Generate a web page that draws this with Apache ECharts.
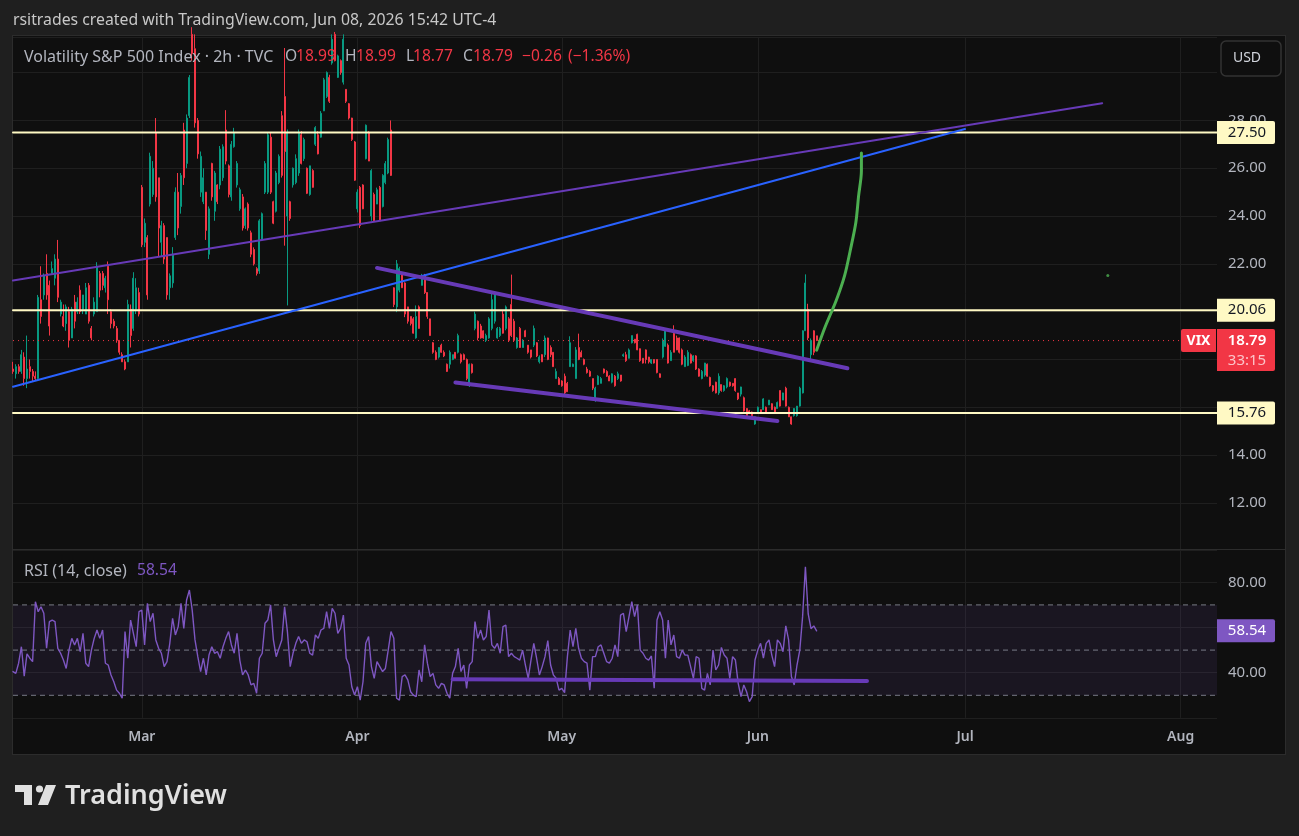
<!DOCTYPE html>
<html>
<head>
<meta charset="utf-8">
<title>VIX 2h</title>
<script src="https://cdn.jsdelivr.net/npm/echarts@6/dist/echarts.min.js"></script>
<style>
html,body{margin:0;padding:0;background:#1f1f1f;overflow:hidden}
#panel{position:absolute;left:12px;top:35px;width:1272px;height:718px;background:#0f0f0f;border:1px solid #2c2c2c}
#main{position:absolute;left:0;top:0;width:1299px;height:836px}
</style>
</head>
<body>
<div id="panel"></div>
<div id="main"></div>
<script>
// candles are [open, close, low, high]
var febBars = [
[17.6,17.5,17.4,17.9],[17.4,17.7,17.2,17.8],[17.7,17.5,17.4,17.8],[17.5,18.2,17.4,18.4],[18.1,17.2,16.9,18.3],
[17.2,17.6,16.8,19],[17.7,17.5,17.2,18],[17.5,17.3,17.1,17.6],[17.3,17.2,17.1,17.5],[17.2,20.6,17.1,20.7],
[20.5,19.8,19.5,21.9],[20.7,21.5,20.5,21.6],[21.6,20.7,20.5,22.4],[21.1,19.4,19,21.3],[21.6,21.8,21.6,22.1],
[21.4,22.2,21.1,22.4],[22.2,20.6,20.4,23],[19.9,20.4,19.8,20.5],[19.8,19.4,19.35,20.3],[19.5,20.2,19.2,20.3],
[20,18.8,18.5,20.2],[18.9,20.1,18.9,20.2],[20.4,19.6,19.3,20.7],[20,20.4,19.9,20.6],[20.9,20,19.9,21.1],
[20.1,20.7,19.9,20.7],[19.9,21,19.9,21.2],[21.1,19.6,19.5,21.2],[19.3,18.9,18.8,19.4],[19.9,20.4,19.8,20.6],
[20,21.9,20,22.07],[21.6,20.9,20.6,21.7],[21.6,21.1,20.9,21.7],[21,21.4,20.8,21.5],[21.9,20.5,19.9,22.1],
[20,19.5,19.3,20.1],[19.6,19.4,19.3,19.7],[19.3,18.8,18.7,19.4],[18.8,18.3,18.2,18.8],[18.2,17.9,17.9,18.3],
[17.9,17.6,17.55,18],[17.9,20.3,17.9,20.5],[20.1,19,18.5,20.3],[19.3,21.4,19.2,21.65],[20.1,21,19.9,21.4],
[20.8,19.9,19.8,21]
];
var marBars = [
[25.2,22.8,22.7,25.3],[22.9,23.7,22.7,23.9],[23.1,20.7,20.5,23.2],[24.5,26.5,24.4,26.65],[24.9,26,24.8,26.3],
[27.5,24.8,24.6,28.1],[25.6,23.5,22.3,25.6],[22.9,23.6,22.3,23.8],[23.6,22.2,22,23.7],[23.1,20.7,20.5,23.1],
[21,21.5,20.5,21.6],[21.2,22.4,21,22.7],[23.1,25,23,25.2],[25,23.5,23.2,25.8],[24.4,25.7,24.1,25.8],
[27.6,25.6,25.3,27.9],[26.2,28.1,26,28.25],[28.2,29.8,28.1,29.9],[31.6,30.8,30.5,31.9],[31,27.9,27.7,31.6],
[28,26.6,26.4,28.1],[25,26.5,24.8,26.7],[24.6,25.6,24.5,26],[25,23.4,23,25],[22.4,24.3,22.2,24.4],
[26.2,24.8,24.64,26.23],[24.2,25.8,23.8,25.89],[25.3,24.6,24.5,25.33],[25.3,26.8,25.12,26.93],[25.6,26.9,25.47,27],
[27.6,26.3,26.16,28.43],[26.1,24.9,24.78,26.16],[24.8,27,24.64,27.14],[26.9,27.5,26.86,27.69],[25.3,26.2,25.19,26.3],
[24.3,25.1,24.22,25.19],[24.8,23.5,23.39,24.92],[23.6,24.3,23.46,24.36],[24.5,23.5,23.39,24.57],[23.3,22.4,22.28,23.39],
[22.6,22,21.93,22.69],[21.8,21.6,21.51,21.86],[21.7,23.8,21.58,23.87],[23,24.1,22.97,24.15],[25,26.2,24.92,26.3],
[25,27.4,24.92,27.48],[27.3,25,24.92,27.48],[24.6,23.7,23.66,24.64],[24.2,25.8,24.15,25.89],[25.4,26.5,25.33,26.58],
[28.2,25.7,25.61,28.39],[29,26.7,22.76,31.03],[24,27.5,20.26,27.62],[24.6,23.9,23.8,24.64],[25.3,26,25.19,26.03],
[25.4,26.4,25.33,26.58],[25.8,27.5,25.68,27.62],[27.4,26.2,26.16,27.55],[26.4,27.2,26.3,27.28],[26,24.95,24.92,26.03],
[24.9,26.1,24.85,26.1],[25.9,25.2,25.19,25.96],[27,27.7,26.93,27.76],[27.4,26.6,26.58,27.55],[27.3,28.3,27.28,28.39],
[28.4,29.7,28.39,29.78],[29,30,28.94,30.05],[29.8,28.8,28.73,29.91],[30.4,31.4,30.33,31.6],[31.6,30.5,30.47,31.7],
[29.8,30.7,29.78,30.75],[30.5,30,29.91,30.55],[29.6,31.4,29.5,31.6],[29.3,28.8,28.73,29.29],[28.7,28.1,28.04,28.73],
[28.1,27.2,27.14,28.11],[27.1,25.5,25.47,27.14]
];
var aprBars = [
[24.3,25,24.15,25.12],[25.2,23.6,23.5,25.26],[25.3,24.3,24.29,25.33],[26.4,27.8,26.37,27.83],[27.5,26.3,26.3,27.55],
[24,25.9,23.8,25.96],[24.9,23.8,23.8,24.98],[24.5,25.1,24.5,25.19],[25.2,23.8,23.8,25.26],[24.4,25.7,24.36,25.75],
[25.4,26.2,25.33,26.3],[25.8,27.2,25.75,27.28],[27.6,25.7,25.68,28],
[21,20.3,20.19,21.02],[20.2,22,19.98,22.16],[20.9,21.8,20.81,21.88],[21.6,21,21,21.65],[21.2,19.9,19.77,21.23],
[20.2,19.6,19.5,20.19],[19.8,19.5,19.42,19.8],[19.7,19.1,19.08,19.77],[18.9,19.8,18.87,20.26],[20.2,19.3,19.29,20.26],
[21.1,21.5,21.09,21.58],[21.5,20.8,20.74,21.58],[20.8,19.8,19.7,20.81],[19.7,19,19,19.7],[18.7,18.3,18.24,18.73],
[18.3,18,17.97,18.38],[18.1,18.5,18.04,18.52],[18.6,18.3,18.28,18.66],[18.3,18.15,18.1,18.38],[17.8,17.5,17.48,17.83],
[17.8,18.3,17.62,18.38],[18,18.2,17.97,18.2],[18.3,18.05,18.04,18.31],[18.3,19,18.25,19.08],[18.2,17.9,17.83,18.25],
[18.2,18,17.97,18.25],[18,17.2,17.13,18.04],[16.9,17.8,16.85,17.83],[17.8,17.45,17.41,17.83],[19.3,19.9,19.22,20],
[19.6,18.9,18.8,19.63],[19.4,18.9,18.87,19.49],[19.2,18.9,18.87,19.22],[18.8,19,18.73,19.08],[18.9,19.7,18.87,19.77],
[19.3,20.5,19.22,20.74],[19.6,20.7,19.5,20.86],[18.9,19.3,18.87,19.36],[19,19.3,18.94,19.36],[19.9,19.1,19.08,20.05],
[19.3,20.2,19.22,20.26],[19.7,18.8,18.73,19.77],[20.3,19,18.94,21.55],[19.6,18.8,18.73,19.7],[18.5,18.9,18.45,18.94],
[19.3,18.5,18.48,19.36],[18.5,18.8,18.5,18.85],[19.2,18.95,18.94,19.24],[18.6,18.3,18.24,18.6],[18.4,18.1,18.04,18.4],
[18.6,19.3,18.52,19.42],[18.7,18.15,18.1,18.73],[17.9,18.1,17.83,18.17],[18.2,17.9,17.9,18.22],[18.2,18.9,18.1,19],
[18.9,18,17.97,18.91],[18.5,18.2,18.1,18.59],[18.3,17.7,17.69,18.31],[17.2,17.5,17.2,17.62],[17.2,16.95,16.93,17.27]
];
var mayBars = [
[17.1,16.9,16.86,17.13],[17.3,16.6,16.47,17.41],[17,16.65,16.65,17.06],[17.7,18.7,17.69,18.97],[17.7,17.8,17.69,17.83],
[17.2,18.4,17.2,18.52],[18.5,18,17.97,19.08],[18.3,18.1,18.1,18.38],[18,17.8,17.76,18.04],[17.6,17.45,17.41,17.69],
[17.5,17.3,17.27,17.55],[17.2,16.8,16.72,17.2],[16.3,16.8,16.23,16.86],[16.95,17.3,16.93,17.34],[17,17.2,17,17.27],
[17.6,17.45,17.41,17.62],[17.5,17.3,17.27,17.55],[17.3,17.1,17.1,17.34],[17.05,17.4,17,17.42],[17.3,16.9,16.86,17.35],
[17.2,17.4,17.14,17.49],[17.35,17.1,17.07,17.35],[18.15,18.2,18.11,18.25],[18.2,17.95,17.9,18.32],[18.05,18.4,18.04,18.46],
[18.7,19,18.67,19],[18.85,18.7,18.67,18.85],[19.05,18.4,18.39,19.08],[18.45,17.95,17.9,18.46],[18.05,17.85,17.83,18.05],
[18.4,18,17.83,18.42],[18.1,17.9,17.83,18.11],[17.85,18,17.81,18],[18,17.85,17.83,18],[18,17.45,17.42,18],
[17.4,17.25,17.25,17.42],[18.1,18.8,18.04,18.88],[18.55,19.2,18.53,19.29],[18.6,17.85,17.83,18.67],[17.95,18.3,17.95,18.39],
[19.1,18.3,18.3,19.43],[18.9,18.4,18.39,19],[18.9,18.3,18.25,18.92],[18.4,17.8,17.76,18.46],[17.7,18.1,17.7,18.18],
[17.75,18.3,17.72,18.39],[18.2,17.85,17.83,18.25],[17.95,18.15,17.9,18.18],[18.15,17.6,17.56,18.18],[17.6,17.3,17.28,17.63],
[17.2,17.5,17.17,17.56],[17.35,17.85,17.28,17.86],[17.8,17.3,17.28,17.83],[17.25,16.9,16.86,17.28],[16.9,16.7,16.65,16.93],
[17.05,16.6,16.58,17.07],[16.6,17.3,16.52,17.42],[16.95,16.7,16.65,16.95],[16.7,16.9,16.65,16.93],[16.85,17.2,16.79,17.25],
[17.05,16.9,16.86,17.07],[17,16.9,16.86,17],[17.2,16.7,16.65,17.21],[16.6,16.35,16.3,16.6],[16.55,16.85,16.45,16.86],
[16.4,15.85,15.82,16.45],[15.95,15.65,15.61,15.96],[15.85,15.75,15.75,15.89],[15.8,15.65,15.61,15.82],[15.3,15.6,15.27,15.61]
];
var junBars = [
[15.8,16,15.75,16.03],[15.9,15.75,15.75,15.9],[15.9,16.35,15.89,16.38],[16,15.8,15.8,16.03],[16.1,16.3,16.1,16.3],
[16.15,15.9,15.89,16.17],[16,15.8,15.78,16.03],[15.95,16.2,15.95,16.24],[16.7,16.05,16.03,16.7],[16.3,16.6,16.3,16.61],
[16.8,16.05,16.03,16.86],[16,15.6,15.6,16.03],[15.6,15.3,15.27,15.61],[15.65,15.95,15.61,15.96],[15.65,16.05,15.61,16.05],
[16.05,16.8,16.03,16.86],[16.6,19.2,16.58,19.22],[19.2,21.2,19.2,21.56],[20.1,18.9,18.81,20.33],[18.2,18.8,18,18.88],
[19.2,18.3,18.18,19.22],[18.99,18.79,18.77,18.99]
];

var febRsi = [40.5,39.7,44.2,51.5,38.5,48.3,46.4,44.9,71.4,67,69.2,66.3,50.8,62.6,63.3,62.6,50.8,48.6,45.6,41.9,50,55.2,52.3,55.2,49.3,57.4,44.2,42.7,50,55.2,58.9,55.2,58.9,44.2,43.4,39,36,32.3,30.9,28.7,58.2,46.4,63.3,57.4,51.5,67];
var marRsi = [67.7,52.3,70.7,62.6,66.3,54.5,50.8,48.6,42.7,44.9,53,64.1,56.7,60.4,70.7,59.6,72.2,76.6,67.7,54.5,47.1,40.5,46.4,39,47.8,51.5,48.6,49.3,46.4,51.5,55.2,58.2,52.3,48.6,57.4,45.6,39,41.2,39,34.6,35.3,30.9,46.4,48.6,61.9,63.3,70,54.5,47.1,50.8,54.5,69.2,58.2,42.7,48.6,53,56,53,54.5,53.7,48.6,47.8,56.7,55.2,58.9,59.6,67,59.6,68.5,66.3,57.4,59.6,65.5,46.4];
var aprRsi = [43.4,33.8,30.1,33.8,27.9,36,53,56,42.7,37.5,44.9,42.7,40.5,41.9,50,58.2,55.2,28.7,27.9,38.3,39,36.8,31.6,30.1,29.4,41.2,36,52.3,44.2,38.3,39.7,34.6,33.1,35.3,34.6,30.9,28.7,39.7,42.7,50.8,40.5,43.4,33.1,43.4,44.9,62.6,55.2,58.9,54.5,56,67.7,52.3,50.8,53,48.6,60.4,61.1,47.1,48.6,47.1,46.4,45.6,50,43.4,37.5,45.6,53,46.4,39,42.7,47.1,54.2,43.4,39,37.5,32.3];
var mayRsi = [33.1,31.2,47.1,58.9,51.5,59.6,50.8,46.4,44.9,44.2,32.3,47.1,47.1,51.5,52.3,48.6,44.9,44.2,46.4,52.3,47.1,65.5,66.3,58.2,64.8,71.4,64.8,70,50,48.6,46.4,45.6,47.4,33.1,63.3,67,63.3,46.4,63.3,52.3,56.7,47.1,46.4,50,47.8,47.8,42.7,37.5,47.1,46.4,33.1,32.3,39.7,34.6,50,41.2,43.4,51.2,47.8,46.4,37.5,47.1,45.6,35.3,29.4,34.6,31.6,27.2,29.4];
var junRsi = [45.6,50,53,46.4,53,54.5,47.8,42.7,54.5,53,49.3,60.7,54.5,38.3,34.6,43.4,50,64.8,86.9,66,59.5,60.7,58.54];

// axis stuff
var slotCount = 431;
var monthBars = [46,123,196,266,340,417];
var monthNames = ['Mar','Apr','May','Jun','Jul','Aug'];
var priceTickLabels = [12,14,22,24,26,28];
var rsiTickLabels = [40,80];
var keyLevels = [27.5,20.06,15.76];
var rsiBands = [70,50,30];
var lastPrice = 18.79;
var lastRsi = 58.54;

// drawings, as [bar slot, value]
var purpleThinLine = [[0,21.3],[389,28.72]];
var blueLine = [[0,16.86],[340,27.64]];
var wedgeTop = [[130,21.83],[298,17.63]];
var wedgeBottom = [[158,17.04],[273,15.43]];
var rsiSupport = [[157,37.1],[305,36.3]];
var greenCurve = [[287,18.39],[290,19.35],[294,20.47],[297,21.51],[299,22.55],[301,23.72],[302,24.84],[303,25.88],[303,26.64]];
var greenDot = [[391,21.51]];

var FONT = '"Noto Sans", sans-serif';
var RED = '#f23645', GREEN = '#089981', PURPLE = '#7e57c2', CREAM = '#fff9c4', MUTED = '#b2b5be';

var candles = febBars.concat(marBars, aprBars, mayBars, junBars);
var rsiLine = febRsi.concat(marRsi, aprRsi, mayRsi, junRsi);
var slots = [];
for (var i = 0; i < slotCount; i++) slots.push(i);

function isMonth(index){ return monthBars.indexOf(index) >= 0; }
function flat(value){ return [[0,value],[slotCount - 1,value]]; }
function drawn(name, data, color, width, pane, extra){
    var s = {
        name: name, type: 'line', data: data, symbol: 'none', silent: true,
        xAxisIndex: pane, yAxisIndex: pane,
        lineStyle: { color: color, width: width, cap: 'round' }
    };
    for (var k in extra) s[k] = extra[k];
    return s;
}
function timeAxis(pane, showLabel){
    return {
        type: 'category', gridIndex: pane, data: slots, boundaryGap: false,
        axisLine: { show: false }, axisTick: { show: false },
        axisPointer: { show: false },
        splitLine: { show: true, interval: isMonth, lineStyle: { color: '#1f1f1f' } },
        axisLabel: {
            show: showLabel, interval: isMonth, margin: 12,
            color: MUTED, fontFamily: FONT, fontSize: 14, fontWeight: 600,
            formatter: function(v){ return monthNames[monthBars.indexOf(+v)] || ''; }
        }
    };
}
function valueAxis(pane, min, max, step, shown){
    return {
        type: 'value', gridIndex: pane, position: 'right', min: min, max: max, interval: step,
        axisLine: { show: false }, axisTick: { show: false },
        splitLine: { show: true, lineStyle: { color: '#1f1f1f' } },
        axisLabel: {
            margin: 11, color: MUTED, fontFamily: FONT, fontSize: 15, padding: [2,0,0,0],
            formatter: function(v){ return shown.indexOf(v) >= 0 ? v.toFixed(2) : ''; }
        }
    };
}

var series = [
    drawn('last', flat(lastPrice), RED, 1, 0, { lineStyle: { color: RED, width: 1, type: [1,4] } }),
    {
        name: 'VIX', type: 'candlestick', data: candles, barWidth: 1.6,
        xAxisIndex: 0, yAxisIndex: 0, silent: true,
        itemStyle: { color: GREEN, color0: RED, borderColor: GREEN, borderColor0: RED, borderWidth: 1 }
    }
];
keyLevels.forEach(function(v){ series.push(drawn('level ' + v, flat(v), CREAM, 2, 0)); });
series.push(drawn('purple trend', purpleThinLine, '#673ab7', 2, 0));
series.push(drawn('blue trend', blueLine, '#2962ff', 2, 0));
series.push(drawn('wedge top', wedgeTop, '#673ab7', 4, 0));
series.push(drawn('wedge bottom', wedgeBottom, '#673ab7', 4, 0));
series.push(drawn('projection', greenCurve, '#4caf50', 3, 0, { smooth: 0.3 }));
series.push({
    name: 'dot', type: 'scatter', data: greenDot, symbolSize: 3, silent: true,
    xAxisIndex: 0, yAxisIndex: 0, itemStyle: { color: '#4caf50' }
});
series.push(drawn('RSI', rsiLine, PURPLE, 1.4, 1, {
    z: 3,
    markArea: {
        silent: true,
        itemStyle: { color: 'rgba(126,87,194,0.1)' },
        data: [[{ yAxis: rsiBands[0] }, { yAxis: rsiBands[2] }]]
    }
}));
rsiBands.forEach(function(v){
    series.push(drawn('band ' + v, flat(v), '#787b86', 1, 1, { z: 2, lineStyle: { color: '#787b86', width: 1, type: [5,4] } }));
});
series.push(drawn('rsi support', rsiSupport, '#673ab7', 4, 1, { z: 4 }));

var chart = echarts.init(document.getElementById('main'));
chart.setOption({
    animation: false,
    textStyle: { fontFamily: FONT },
    grid: [
        { left: 13, top: 37, width: 1204, height: 513.7 },
        { left: 13, top: 550, width: 1204, height: 167.9 }
    ],
    xAxis: [timeAxis(0, false), timeAxis(1, true)],
    yAxis: [valueAxis(0, 10, 31.49, 2, priceTickLabels), valueAxis(1, 20, 94.3, 20, rsiTickLabels)],
    series: series
});

// header, legend, price tags and logo sit on top of the plot
function text(x, y, str, color, size, extra){
    var style = { x: x, y: y, text: str, fill: color, font: (extra && extra.weight || 400) + ' ' + size + 'px ' + FONT, verticalAlign: 'middle', align: extra && extra.align || 'left' };
    return { type: 'text', silent: true, z: 100, style: style };
}
function tag(y, h, bg, lines){
    var out = [{ type: 'rect', silent: true, z: 99, shape: { x: 1217, y: y, width: 58, height: h, r: [0,2,2,0] }, style: { fill: bg } }];
    lines.forEach(function(l){ out.push(text(1247, l.y, l.text, l.color, 15, { align: 'center', weight: l.weight })); });
    return out;
}
var items = [
    { type: 'rect', silent: true, z: 99, shape: { x: 13, y: 549, width: 1272, height: 1 }, style: { fill: '#2c2c2c' } },
    text(13, 20, 'rsitrades created with TradingView.com, Jun 08, 2026 15:42 UTC-4', '#c8c8c8', 15.8),
    text(24, 57, 'Volatility S&P 500 Index · 2h · TVC', MUTED, 16),
    text(285, 57, 'O', MUTED, 15.6), text(296, 57, '18.99', RED, 15.6),
    text(345, 57, 'H', MUTED, 15.6), text(356, 57, '18.99', RED, 15.6),
    text(406, 57, 'L', MUTED, 15.6), text(413, 57, '18.77', RED, 15.6),
    text(463, 57, 'C', MUTED, 15.6), text(473, 57, '18.79', RED, 15.6),
    text(522, 57, '−0.26', RED, 15.6), text(568, 57, '(−1.36%)', RED, 15.6),
    text(24, 571, 'RSI (14, close)', MUTED, 16), text(137, 571, lastRsi.toFixed(2), PURPLE, 15.6),
    { type: 'rect', silent: true, z: 99, shape: { x: 1221, y: 41, width: 60, height: 35, r: 5 }, style: { fill: '#0f0f0f', stroke: '#333333', lineWidth: 1.5 } },
    text(1247, 58, 'USD', '#d1d4dc', 14, { align: 'center' }),
    // logo
    { type: 'polygon', silent: true, shape: { points: [[15,785],[32,785],[32,805],[24,805],[24,792],[15,792]] }, style: { fill: '#e0e0e0' } },
    { type: 'circle', silent: true, shape: { cx: 39.5, cy: 789, r: 3.6 }, style: { fill: '#e0e0e0' } },
    { type: 'polygon', silent: true, shape: { points: [[46,785],[56,785],[48,805],[38,805]] }, style: { fill: '#e0e0e0' } },
    text(65, 796, 'TradingView', '#e0e0e0', 27, { weight: 600 })
];
keyLevels.forEach(function(v){
    var y = chart.convertToPixel({ yAxisIndex: 0 }, v);
    items = items.concat(tag(y - 11.5, 23, CREAM, [{ y: y, text: v.toFixed(2), color: '#131722' }]));
});
var lastY = chart.convertToPixel({ yAxisIndex: 0 }, lastPrice);
items = items.concat(tag(lastY - 11.5, 42, RED, [
    { y: lastY, text: lastPrice.toFixed(2), color: '#ffffff', weight: 600 },
    { y: lastY + 20, text: '33:15', color: '#fbc4c9' }
]));
items.push({ type: 'rect', silent: true, z: 99, shape: { x: 1181, y: lastY - 11.5, width: 35, height: 23, r: [2,0,0,2] }, style: { fill: RED } });
items.push(text(1198.5, lastY, 'VIX', '#ffffff', 14, { align: 'center', weight: 700 }));
var rsiY = chart.convertToPixel({ yAxisIndex: 1 }, lastRsi);
items = items.concat(tag(rsiY - 11.5, 23, PURPLE, [{ y: rsiY, text: lastRsi.toFixed(2), color: '#ffffff' }]));

chart.setOption({ graphic: { elements: items } });
</script>
</body>
</html>
